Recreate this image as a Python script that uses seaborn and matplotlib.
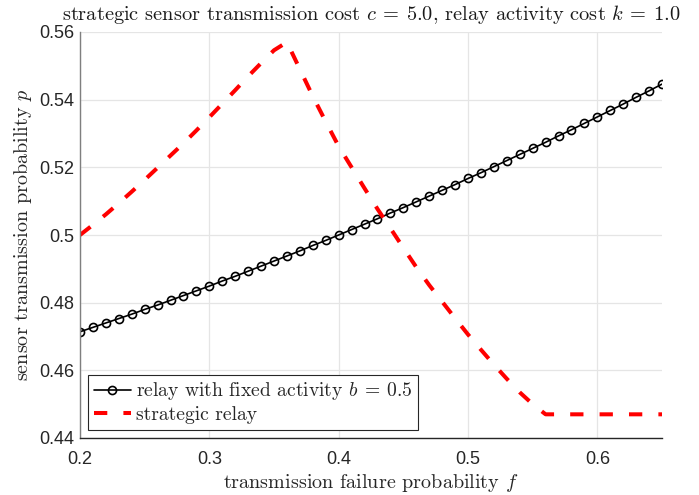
import matplotlib
matplotlib.use("Agg")
import matplotlib.pyplot as plt
import matplotlib.ticker as mticker
import seaborn as sns
import pandas as pd

# ---- data ----
f_values = [0.20, 0.21, 0.22, 0.23, 0.24, 0.25, 0.26, 0.27, 0.28, 0.29,
            0.30, 0.31, 0.32, 0.33, 0.34, 0.35, 0.36, 0.37, 0.38, 0.39,
            0.40, 0.41, 0.42, 0.43, 0.44, 0.45, 0.46, 0.47, 0.48, 0.49,
            0.50, 0.51, 0.52, 0.53, 0.54, 0.55, 0.56, 0.57, 0.58, 0.59,
            0.60, 0.61, 0.62, 0.63, 0.64, 0.65]
fixed_p = [0.4714, 0.4727, 0.4740, 0.4753, 0.4766, 0.4780, 0.4793, 0.4807, 0.4821, 0.4835,
           0.4849, 0.4864, 0.4878, 0.4893, 0.4908, 0.4923, 0.4938, 0.4953, 0.4969, 0.4984,
           0.5000, 0.5016, 0.5032, 0.5048, 0.5065, 0.5081, 0.5098, 0.5115, 0.5132, 0.5149,
           0.5167, 0.5184, 0.5202, 0.5220, 0.5238, 0.5256, 0.5274, 0.5293, 0.5311, 0.5330,
           0.5349, 0.5368, 0.5387, 0.5407, 0.5426, 0.5446]
strategic_p = [0.5000, 0.5030, 0.5061, 0.5094, 0.5128, 0.5163, 0.5199, 0.5235, 0.5271, 0.5309,
               0.5348, 0.5388, 0.5428, 0.5469, 0.5508, 0.5546, 0.5570, 0.5490, 0.5410, 0.5335,
               0.5262, 0.5200, 0.5138, 0.5077, 0.5020, 0.4962, 0.4905, 0.4852, 0.4803, 0.4754,
               0.4706, 0.4661, 0.4617, 0.4575, 0.4535, 0.4500, 0.4470, 0.4470, 0.4470, 0.4470,
               0.4470, 0.4470, 0.4470, 0.4470, 0.4470, 0.4470]
x_ticks = [0.2, 0.3, 0.4, 0.5, 0.6]
y_ticks = [0.44, 0.46, 0.48, 0.50, 0.52, 0.54, 0.56]
label_fixed = r"relay with fixed activity $b\:=\:0.5$"
label_strategic = "strategic relay"
title_text = r"strategic sensor transmission cost $c\:=\:5.0$, relay activity cost $k\:=\:1.0$"
xlabel_text = r"transmission failure probability $f$"
ylabel_text = r"sensor transmission probability $p$"

df = pd.DataFrame({"f": f_values, "fixed": fixed_p, "strategic": strategic_p})

sns.set_theme(style="white")
plt.rcParams["font.family"] = ["Liberation Sans", "DejaVu Sans"]
plt.rcParams["mathtext.fontset"] = "cm"
plt.rcParams["axes.unicode_minus"] = False

fig = plt.figure(figsize=(6.99, 4.95), dpi=100)
ax = fig.add_axes([80 / 699, 1 - 438 / 495, (662 - 80) / 699, (438 - 32) / 495])

sns.lineplot(data=df, x="f", y="fixed", ax=ax, color="black", linewidth=1.2,
             marker="o", markersize=5.8, markerfacecolor="none",
             markeredgecolor="black", markeredgewidth=1.2, label=label_fixed)
sns.lineplot(data=df, x="f", y="strategic", ax=ax, color="#ff0000", linewidth=2.9,
             label=label_strategic)
ax.lines[1].set_dashes((3.3, 4.0))
ax.lines[1].set_dash_capstyle("butt")

ax.set_xlim(0.2, 0.65)
ax.set_ylim(0.44, 0.56)
ax.set_xticks(x_ticks)
ax.set_yticks(y_ticks)
fmt = mticker.FuncFormatter(lambda v, p: f"{v:g}")
ax.xaxis.set_major_formatter(fmt)
ax.yaxis.set_major_formatter(fmt)

ax.grid(True, color="#e5e5e5", linewidth=0.9)
ax.set_axisbelow(True)
for s in ["top", "right"]:
    ax.spines[s].set_visible(False)
for s in ["left", "bottom"]:
    ax.spines[s].set_color("#7f7f7f")
    ax.spines[s].set_linewidth(1.0)
ax.spines["bottom"].set_color("#262626")
ax.tick_params(axis="both", direction="in", length=4, width=0.8, color="#262626",
               labelsize=13, labelcolor="#262626")
ax.tick_params(axis="x", pad=9)
ax.tick_params(axis="y", pad=4)

label_font = {"family": "cmr10", "size": 14.5}
ax.set_title(title_text, fontdict={"family": "cmr10", "size": 14.7}, pad=9, color="#1a1a1a")
ax.set_xlabel(xlabel_text, fontdict=label_font, color="#262626", labelpad=3)
ax.set_ylabel(ylabel_text, fontdict=label_font, color="#262626", labelpad=4)

leg = ax.legend(loc="lower left", prop={"family": "cmr10", "size": 14.1},
                fancybox=False, frameon=True, edgecolor="#262626", framealpha=1,
                borderaxespad=0.4, handlelength=1.9, handletextpad=0.25,
                borderpad=0.3, labelspacing=0.2)
leg.get_frame().set_linewidth(0.8)

fig.savefig("out.png", dpi=100)
